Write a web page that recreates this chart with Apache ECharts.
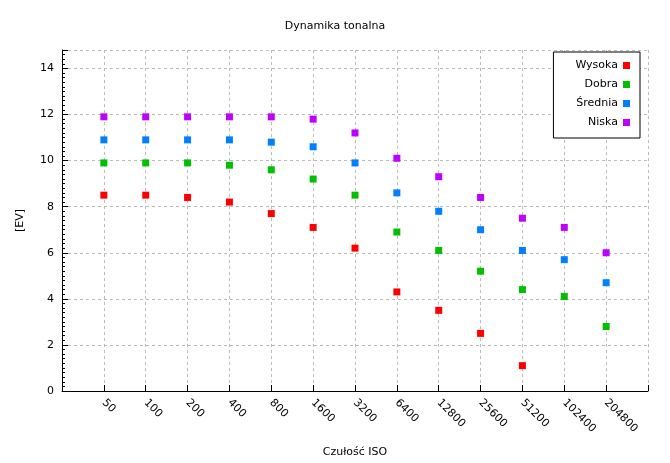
<!DOCTYPE html>
<html><head><meta charset="utf-8">
<script src="https://cdn.jsdelivr.net/npm/echarts@6/dist/echarts.min.js"></script>
<style>html,body{margin:0;padding:0;background:#fff}#c{width:670px;height:463px}</style>
</head><body><div id="c"></div>
<script>
const categories = ['50','100','200','400','800','1600','3200','6400','12800','25600','51200','102400','204800'];
const wysoka = [8.5,8.5,8.4,8.2,7.7,7.1,6.2,4.3,3.5,2.5,1.1];
const dobra = [9.9,9.9,9.9,9.8,9.6,9.2,8.5,6.9,6.1,5.2,4.4,4.1,2.8];
const srednia = [10.9,10.9,10.9,10.9,10.8,10.6,9.9,8.6,7.8,7.0,6.1,5.7,4.7];
const niska = [11.9,11.9,11.9,11.9,11.9,11.8,11.2,10.1,9.3,8.4,7.5,7.1,6.0];
const yTicks = [0,2,4,6,8,10,12,14];
const names = ['Wysoka','Dobra','Średnia','Niska'];
const colors = ['#ff0000','#00c000','#0080ff','#c000ff'];
const sets = [wysoka,dobra,srednia,niska];
const font = 'DejaVu Sans';
const chart = echarts.init(document.getElementById('c'));
chart.setOption({
  animation:false,
  title:{text:'Dynamika tonalna',left:'center',top:16,textStyle:{fontFamily:font,fontSize:11,fontWeight:'normal',color:'#000'}},
  legend:{right:30,top:52,orient:'vertical',align:'right',itemWidth:7,itemHeight:7,itemGap:8,icon:'rect',
    borderColor:'#000',borderWidth:1,borderRadius:0,padding:[8,10,10,22],backgroundColor:'#fff',
    textStyle:{fontFamily:font,fontSize:11,color:'#000'},data:names},
  grid:{left:62,right:22,top:50,bottom:71},
  xAxis:{type:'value',min:-1,max:13,interval:1,name:'Czułość ISO',nameLocation:'middle',nameGap:56,
    nameTextStyle:{fontFamily:font,fontSize:11,color:'#000'},
    axisLine:{onZero:false,lineStyle:{color:'#000',width:1}},
    axisTick:{inside:true,length:6,lineStyle:{color:'#000'}},
    axisLabel:{rotate:-45,fontFamily:font,fontSize:11,color:'#000',margin:10,
      formatter:v=>categories[v]!==undefined?categories[v]:''},
    splitLine:{show:true,lineStyle:{color:'#bbb',type:[3,3]}}},
  yAxis:{type:'value',min:0,max:14.8,interval:2,name:'[EV]',nameLocation:'middle',nameGap:36,
    nameTextStyle:{fontFamily:font,fontSize:11,color:'#000'},
    axisLine:{show:true,onZero:false,lineStyle:{color:'#000'}},
    axisTick:{inside:true,length:6,lineStyle:{color:'#000'}},
    minorTick:{show:true,splitNumber:10,length:3,lineStyle:{color:'#000'}},
    axisLabel:{fontFamily:font,fontSize:11,color:'#000',formatter:v=>yTicks.includes(v)?String(v):''},
    splitLine:{show:true,lineStyle:{color:'#bbb',type:[3,3]}}},
  series:sets.map((d,i)=>({name:names[i],type:'scatter',symbol:'rect',symbolSize:7,
    itemStyle:{color:colors[i],opacity:1},data:d.map((v,j)=>[j,v])}))
});
</script></body></html>
